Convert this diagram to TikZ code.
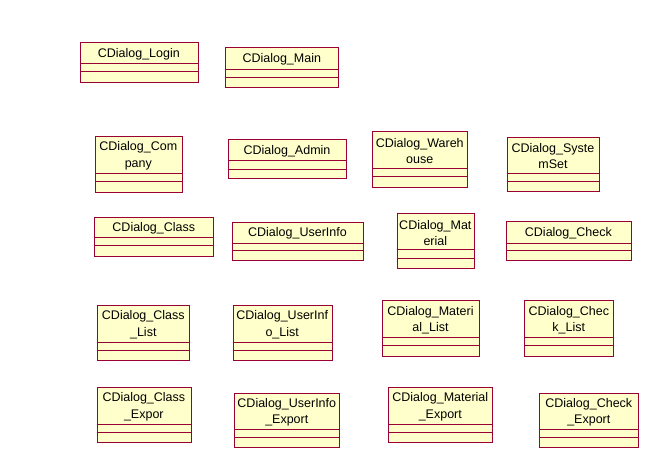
\documentclass[tikz,border=0pt]{standalone}
\usepackage{fontspec}
\setmainfont{Liberation Sans}
\definecolor{roseborder}{HTML}{990033}
\definecolor{rosefill}{HTML}{FFFFCC}
\tikzset{
  classbox/.style={draw=roseborder, fill=rosefill, line width=1pt, inner sep=0pt, anchor=north west},
  classline/.style={draw=roseborder, line width=1pt},
  classname/.style={inner sep=0pt, align=center, text=black, yshift=-1.2pt, font=\fontsize{12.5}{16.5}\selectfont}
}
% #1 name, #2 x1, #3 y1, #4 x2, #5 y2, #6 divider1, #7 divider2, #8 text
\newcommand{\umlclassbox}[8]{%
  \node[classbox, minimum width={(#4-#2)*1pt}, minimum height={(#5-#3)*1pt}] (#1) at (#2,#3) {};
  \draw[classline] (#2,#6) -- (#4,#6);
  \draw[classline] (#2,#7) -- (#4,#7);
  \node[classname] (#1-name) at ({(#2+#4)/2},{(#3+#6)/2}) {#8};
}
\begin{document}
\begin{tikzpicture}[x=1pt,y=-1pt]
\useasboundingbox[fill=white] (0,0) rectangle (670,470);
\umlclassbox{login}{80}{42.3}{197.7}{81.7}{63.3}{71.7}{CDialog\_Login}
\umlclassbox{main}{225.3}{47.3}{338.3}{86.7}{69.3}{77.7}{CDialog\_Main}
\umlclassbox{company}{95}{136.3}{181.7}{191.7}{173.3}{181.7}{CDialog\_Com\\pany}
\umlclassbox{admin}{227.7}{139.3}{346.3}{178.3}{161}{169.3}{CDialog\_Admin}
\umlclassbox{warehouse}{372.3}{131}{467.3}{186.7}{168.3}{176.7}{CDialog\_Wareh\\ouse}
\umlclassbox{systemset}{506.7}{136.7}{599.3}{190.7}{173.3}{181.7}{CDialog\_Syste\\mSet}
\umlclassbox{class}{94.3}{216.7}{213.3}{255.7}{237.3}{245.3}{CDialog\_Class}
\umlclassbox{userinfo}{231.7}{221.7}{363.3}{260}{243.3}{250.3}{CDialog\_UserInfo}
\umlclassbox{material}{396.7}{213.3}{474}{268.3}{250}{258.3}{CDialog\_Mat\\erial}
\umlclassbox{check}{505.7}{221}{631}{260}{243.3}{250.7}{CDialog\_Check}
\umlclassbox{classlist}{97.3}{305}{189.3}{360}{342.3}{350.7}{CDialog\_Class\\\_List}
\umlclassbox{userinfolist}{232.7}{305}{331.7}{360}{342.3}{350.7}{CDialog\_UserInf\\o\_List}
\umlclassbox{materiallist}{381.7}{300}{479.3}{355.7}{337.7}{345.7}{CDialog\_Materi\\al\_List}
\umlclassbox{checklist}{524.3}{300}{613.3}{355.7}{337.7}{345.7}{CDialog\_Chec\\k\_List}
\umlclassbox{classexpor}{96.7}{387.3}{191}{442.3}{424.3}{432.7}{CDialog\_Class\\\_Expor}
\umlclassbox{userinfoexport}{234.3}{392.7}{339.3}{447.3}{429.3}{437.7}{CDialog\_UserInfo\\\_Export}
\umlclassbox{materialexport}{388.3}{387.3}{492.3}{442.3}{424.3}{432.7}{CDialog\_Material\\\_Export}
\umlclassbox{checkexport}{539.3}{392.7}{638.3}{447.3}{429.3}{437.7}{CDialog\_Check\\\_Export}
\end{tikzpicture}
\end{document}
